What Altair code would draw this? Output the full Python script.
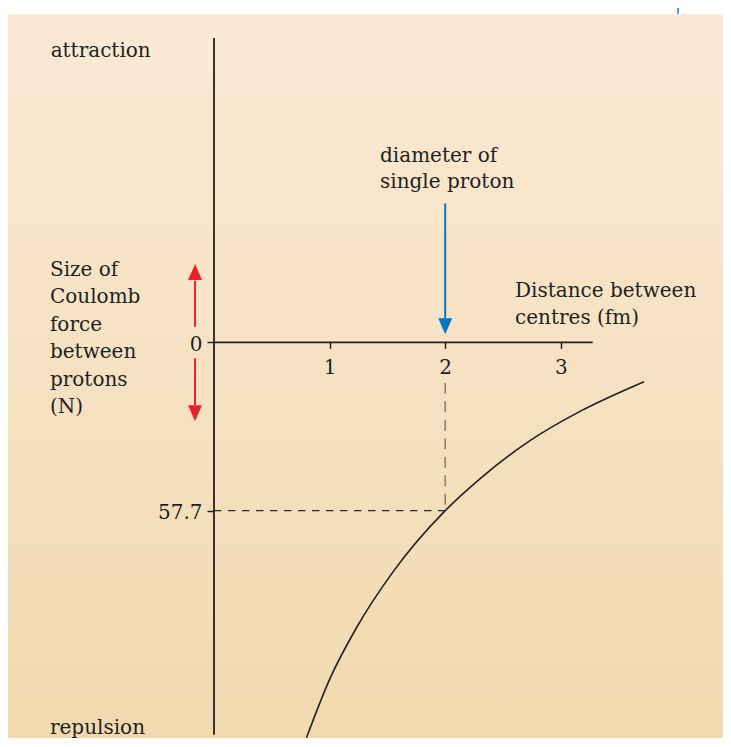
import altair as alt
import pandas as pd

# ---- data (distance in fm, force in N; negative force = repulsion, drawn downward)
curve_r = [0.80, 1.00, 1.23, 1.55, 2.00, 2.30, 2.73, 3.17, 3.72]
curve_force = [-135.5, -115.5, -98.0, -78.6, -57.7, -46.8, -33.8, -23.6, -13.5]

x_ticks = [1, 2, 3]
y_ticks = [0, -57.7]
y_tick_labels = ["0", "57.7"]

marked_r = 2.0          # diameter of a single proton
marked_force = -57.7    # force at that separation

# annotation texts and anchors (data units)
label_texts = ["attraction", "repulsion",
               "Size of\nCoulomb\nforce\nbetween\nprotons\n(N)",
               "diameter of\nsingle proton",
               "Distance between\ncentres (fm)"]
label_r = [-1.413, -1.419, -1.419, 1.436, 2.604]
label_force = [97.7, -134.2, 22.8, 61.9, 15.4]
label_line_height = [27, 27, 27.5, 26, 27]

# ---- styling
INK = "#231F20"
FONT = "DejaVu Serif"
W, H = 715, 730
xs = alt.Scale(domain=[-1.782, 4.403], nice=False, zero=False)
ys = alt.Scale(domain=[-135.61, 114.56], nice=False, zero=False)

def X(field="r", **kw):
    return alt.X(f"{field}:Q", scale=xs, axis=None, **kw)

def Y(field="v", **kw):
    return alt.Y(f"{field}:Q", scale=ys, axis=None, **kw)

# background panel with vertical gradient
bg = alt.Chart(pd.DataFrame({"a": [0]})).mark_rect(
    color=alt.LinearGradient(
        gradient="linear",
        stops=[alt.GradientStop(color="#FAEAD5", offset=0),
               alt.GradientStop(color="#F2D9AF", offset=1)],
        x1=0, x2=0, y1=0, y2=1)
).encode(x=alt.value(0), x2=alt.value(W), y=alt.value(6), y2=alt.value(H))

corner = alt.Chart(pd.DataFrame({"a": [0]})).mark_rule(color="#1F7FC4", strokeWidth=1.5).encode(
    x=alt.value(670), y=alt.value(0), y2=alt.value(6))

# axes lines
vaxis = alt.Chart(pd.DataFrame({"r": [0.0], "v": [104.3], "v2": [-134.5]})).mark_rule(
    color=INK, strokeWidth=1.8).encode(x=X(), y=Y(), y2="v2:Q")
haxis = alt.Chart(pd.DataFrame({"r": [0.0], "r2": [3.276], "v": [0.0]})).mark_rule(
    color=INK, strokeWidth=1.8).encode(x=X(), x2="r2:Q", y=Y())

# tick marks & labels via real axes (no domain lines)
label_expr = " : ".join(
    [f"datum.value == {v} ? '{t}'" for v, t in zip(y_ticks[:-1], y_tick_labels[:-1])]
    + [f"'{y_tick_labels[-1]}'"])
axes_layer = alt.Chart(pd.DataFrame({"r": x_ticks, "v": [0, 0, 0]})).mark_point(opacity=0).encode(
    x=alt.X("r:Q", scale=xs, axis=alt.Axis(
        values=x_ticks, orient="bottom", offset=-395.7, domain=False, grid=False,
        ticks=True, tickSize=6, tickWidth=1.5, tickColor=INK, zindex=2,
        labelFont=FONT, labelFontSize=20, labelColor=INK, labelPadding=9,
        labelFlush=False, labelOverlap=False, title=None)),
    y=alt.Y("v:Q", scale=ys, axis=alt.Axis(
        values=y_ticks, orient="left", offset=-206, domain=False, grid=False,
        ticks=True, tickSize=7, tickWidth=1.5, tickColor=INK, zindex=2,
        labelExpr=label_expr, labelFont=FONT, labelFontSize=20, labelColor=INK,
        labelPadding=5, labelOffset=2, labelFlush=False, labelOverlap=False, title=None)),
)

# dashed guide lines
hdash = alt.Chart(pd.DataFrame({"r": [0.0], "r2": [marked_r], "v": [marked_force]})).mark_rule(
    color="#2E2A28", strokeWidth=1.2, strokeDash=[7.5, 6.5]).encode(x=X(), x2="r2:Q", y=Y())
vdash = alt.Chart(pd.DataFrame({"r": [marked_r], "v": [-13.9], "v2": [marked_force]})).mark_rule(
    color="#7E7468", strokeWidth=1.4, strokeDash=[11, 7.5]).encode(x=X(), y=Y(), y2="v2:Q")

# curve
curve = alt.Chart(pd.DataFrame({"r": curve_r, "v": curve_force})).mark_line(
    color=INK, strokeWidth=1.6, interpolate="monotone").encode(x=X(), y=Y())

# arrows
DOWN = "M-0.875,-1L0.875,-1L0,1Z"
UP = "M-0.875,1L0.875,1L0,-1Z"
RED = "#E8202A"
BLUE = "#0A73BF"

def shaft(r, v1, v2, color):
    return alt.Chart(pd.DataFrame({"r": [r], "v": [v1], "v2": [v2]})).mark_rule(
        color=color, strokeWidth=2).encode(x=X(), y=Y(), y2="v2:Q")

def head(r, v, shape, color):
    return alt.Chart(pd.DataFrame({"r": [r], "v": [v]})).mark_point(
        shape=shape, size=256, filled=True, color=color, opacity=1, strokeWidth=0).encode(x=X(), y=Y())

arrows = [
    shaft(marked_r, 47.6, 8.2, BLUE), head(marked_r, 5.5, DOWN, BLUE),
    shaft(-0.164, 5.3, 21.1, RED), head(-0.164, 24.1, UP, RED),
    shaft(-0.164, -5.5, -21.5, RED), head(-0.164, -24.35, DOWN, RED),
]

texts = []
for t, r, v, lh in zip(label_texts, label_r, label_force, label_line_height):
    texts.append(alt.Chart(pd.DataFrame({"r": [r], "v": [v], "t": [t]})).mark_text(
        align="left", baseline="alphabetic", font=FONT, fontSize=20, color=INK,
        lineBreak="\n", lineHeight=lh).encode(x=X(), y=Y(), text="t:N"))

chart = alt.layer(
    bg, corner, vaxis, haxis, hdash, vdash, curve, *arrows, *texts, axes_layer
).resolve_axis(
    x="independent", y="independent"
).properties(
    width=W, height=H, padding=0, autosize=alt.AutoSizeParams(type="none"),
    background="white"
).configure_view(stroke=None)

chart.save("out.html", embed_options={"renderer": "svg", "actions": False})
